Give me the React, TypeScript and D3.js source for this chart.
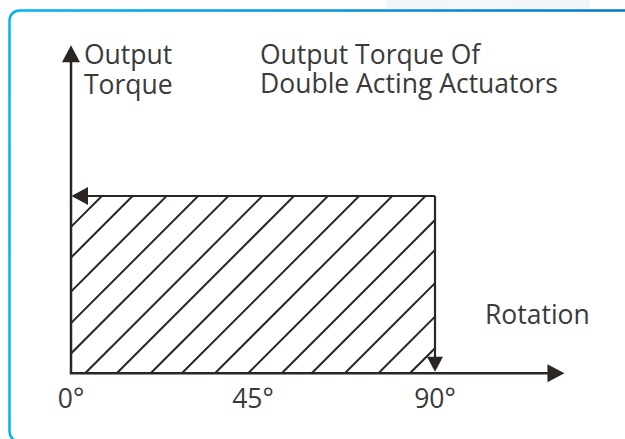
import React from "react";
import * as d3 from "d3";

// ---- data ----
const rotationTicks = [0, 45, 90];
const tickLabels = ["0°", "45°", "90°"];
const rotationSpan = [0, 90]; // output torque applies over full stroke
const outputTorque = 1; // normalized constant torque
const xAxisMax = 122; // degrees where x arrow ends
const yAxisMax = 1.85; // torque where y arrow ends
const hatchStarts = [-36.2, -28.6, -20.2, -12.4, -4.9, 3.5, 11.3, 19.7, 27.4, 35.6, 43.8, 52.1, 59.5, 67.7, 76.0, 83.8];
const yAxisLabel = ["Output", "Torque"];
const titleLines = ["Output Torque Of", "Double Acting Actuators"];
const xAxisLabel = "Rotation";

const W = 625;
const H = 439;
const INK = "#2b2623";
const TEXT = "#3a3a3a";
const FONT = "'Open Sans', 'Noto Sans', sans-serif";

export default function App() {
  const x = d3.scaleLinear().domain([0, 90]).range([71, 435]);
  const y = d3.scaleLinear().domain([0, 1]).range([373.3, 196]);

  const x0 = x(rotationSpan[0]);
  const x1 = x(rotationSpan[1]);
  const yTop = y(outputTorque);
  const yBase = y(0);

  const AL = 17; // arrow length
  const AW = 9; // arrow half width

  const tri = (pts: [number, number][]) => d3.line()(pts) + "Z";

  const yTip = y(yAxisMax);
  const xTip = x(xAxisMax);

  const big = 400;

  return (
    <svg
      width={W}
      height={H}
      viewBox={`0 0 ${W} ${H}`}
      style={{ position: "absolute", left: 0, top: 0, display: "block", background: "#fff" }}
    >
      <defs>
        <linearGradient id="border" x1="9.5" y1="0" x2="625" y2="0" gradientUnits="userSpaceOnUse">
          <stop offset="0" stopColor="#00b4f0" />
          <stop offset="1" stopColor="#0078c8" />
        </linearGradient>
        <clipPath id="rectClip">
          <rect x={x0} y={yTop} width={x1 - x0} height={yBase - yTop} />
        </clipPath>
      </defs>
      <rect x={0} y={0} width={W} height={H} fill="#fff" />
      <rect x={386} y={0} width={204} height={9} fill="#f4f6f9" />
      <rect x={9.5} y={10.5} width={660} height={431} rx={10} ry={10} fill="none" stroke="url(#border)" strokeWidth={2.5} />

      {/* hatching */}
      <g clipPath="url(#rectClip)" stroke={INK} strokeWidth={2}>
        {hatchStarts.map((s, i) => {
          const bx = x(s);
          return <line key={i} x1={bx} y1={yBase} x2={bx + big} y2={yBase - big} />;
        })}
      </g>

      {/* torque rectangle top (arrow to left) and right (arrow down) */}
      <g stroke={INK} strokeWidth={2.2} fill="none">
        <line x1={x1} y1={yTop} x2={x0 + AL - 2} y2={yTop} />
        <line x1={x1} y1={yTop} x2={x1} y2={yBase - AL + 1} />
      </g>
      <path d={tri([[x0 + 0.5, yTop], [x0 + AL, yTop - AW], [x0 + AL, yTop + AW]])} fill={INK} />
      <path d={tri([[x1, yBase - 1.5], [x1 - 8, yBase - 1.5 - 15], [x1 + 8, yBase - 1.5 - 15]])} fill={INK} />

      {/* axes */}
      <g stroke={INK} strokeWidth={2.5} fill="none">
        <line x1={x0} y1={yBase} x2={x0} y2={yTip + AL - 1} />
        <line x1={x0 - 1.2} y1={yBase} x2={xTip - AL + 1} y2={yBase} />
      </g>
      <path d={tri([[x0, yTip], [x0 - AW, yTip + AL], [x0 + AW, yTip + AL]])} fill={INK} />
      <path d={tri([[xTip, yBase], [xTip - AL, yBase - AW], [xTip - AL, yBase + AW]])} fill={INK} />

      {/* texts */}
      <g fontFamily={FONT} fontSize={26.5} fill={TEXT}>
        {yAxisLabel.map((t, i) => (
          <text key={t} x={84} y={64 + i * 29.5}>{t}</text>
        ))}
        {titleLines.map((t, i) => (
          <text key={t} x={260} y={63.5 + i * 29.5}>{t}</text>
        ))}
        <text x={485} y={324}>{xAxisLabel}</text>
        {rotationTicks.map((v, i) => (
          <text key={v} x={x(v)} y={408} textAnchor="middle">{tickLabels[i]}</text>
        ))}
      </g>
    </svg>
  );
}
